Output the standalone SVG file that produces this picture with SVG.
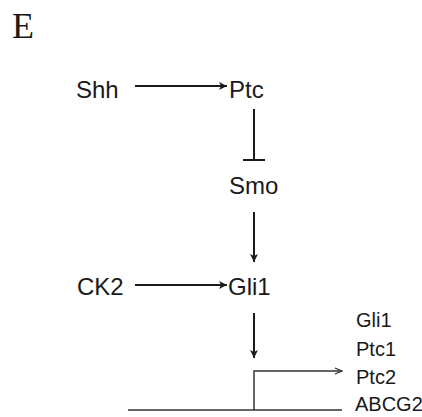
<svg xmlns="http://www.w3.org/2000/svg" width="422" height="417" viewBox="0 0 422 417">
<style>
.lbl{font-family:"Liberation Sans",Arial,sans-serif;font-size:24px;fill:#1a1a1a}
.gene{font-family:"Liberation Sans",Arial,sans-serif;font-size:20px;fill:#1a1a1a}
.ln{stroke:#1a1a1a;stroke-width:2;fill:none}
.thin{stroke:#333;stroke-width:1.5;fill:none}
</style>
<defs>
<marker id="ah" markerWidth="10" markerHeight="10" refX="9" refY="5" orient="auto" markerUnits="userSpaceOnUse">
<path d="M1,1 L9,5 L1,9 L3,5 Z" fill="#1a1a1a"/>
</marker>
<marker id="ah2" markerWidth="10" markerHeight="10" refX="9" refY="5" orient="auto" markerUnits="userSpaceOnUse">
<path d="M2,2 L9,5 L2,8" fill="none" stroke="#333" stroke-width="1.3"/>
</marker>
</defs>
<rect width="422" height="417" fill="#fff"/>
<text x="12" y="38" font-family="'Liberation Serif','Times New Roman',serif" font-size="36" fill="#1a1a1a">E</text>
<g id="Shh"><text class="lbl" x="76" y="98">Shh</text></g>
<g id="Ptc"><text class="lbl" x="229" y="98">Ptc</text></g>
<g id="Smo"><text class="lbl" x="229" y="194">Smo</text></g>
<g id="CK2"><text class="lbl" x="77" y="295">CK2</text></g>
<g id="Gli1"><text class="lbl" x="228" y="295">Gli1</text></g>
<g id="targets">
<text class="gene" x="356" y="327">Gli1</text>
<text class="gene" x="356" y="356">Ptc1</text>
<text class="gene" x="356" y="384">Ptc2</text>
<text class="gene" x="355" y="411" font-size="18">ABCG2</text>
</g>
<g id="connectors">
<line class="ln" x1="135" y1="86" x2="227" y2="86" marker-end="url(#ah)"/>
<line class="ln" x1="254" y1="109" x2="254" y2="160"/>
<line class="ln" x1="243" y1="160" x2="265" y2="160"/>
<line class="ln" x1="254" y1="212" x2="254" y2="262" marker-end="url(#ah)"/>
<line class="ln" x1="135" y1="285" x2="227" y2="285" marker-end="url(#ah)"/>
<line class="ln" x1="254" y1="313" x2="254" y2="358" marker-end="url(#ah)"/>
<line class="thin" x1="128" y1="410" x2="342" y2="410"/>
<polyline class="thin" points="254,410 254,371 342,371" marker-end="url(#ah2)"/>
</g>
</svg>
